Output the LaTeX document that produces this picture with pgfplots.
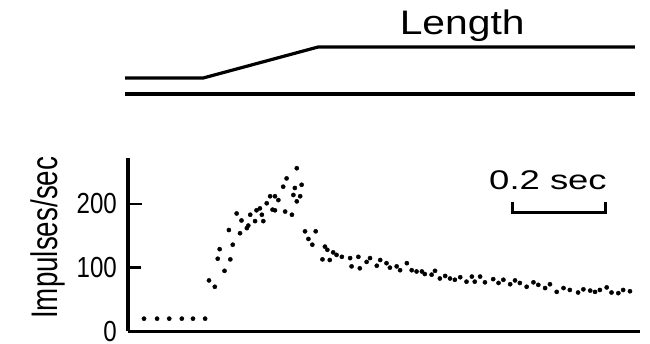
\documentclass[border=0pt]{standalone}
\usepackage{pgfplots}
\pgfplotsset{compat=1.18}
\usepackage{pgfplotstable}
\usepackage{fontspec}
\setmainfont{Liberation Sans}

% Discharge rate (impulses/sec) against time (s)
\pgfplotstableread{
t v
0.033 20
0.060 20
0.085 20
0.111 20
0.134 20
0.159 20
0.167 80
0.179 70
0.185 114
0.189 129
0.199 95
0.208 159
0.211 113
0.216 136
0.224 185
0.231 154
0.234 174
0.245 162
0.248 166
0.252 183
0.262 173
0.265 190
0.272 193
0.276 183
0.279 173
0.286 201
0.293 212
0.298 191
0.303 212
0.303 190
0.310 206
0.320 227
0.324 188
0.327 240
0.338 183
0.341 214
0.344 225
0.348 204
0.348 256
0.355 212
0.358 230
0.365 157
0.372 145
0.380 136
0.387 157
0.401 113
0.406 133
0.411 128
0.416 112
0.423 124
0.430 120
0.441 117
0.458 115
0.461 102
0.475 117
0.478 99
0.492 109
0.499 115
0.513 103
0.520 112
0.533 107
0.540 100
0.554 102
0.561 96
0.575 107
0.585 96
0.595 94
0.606 94
0.612 90
0.626 89
0.633 95
0.643 83
0.654 87
0.664 83
0.674 81
0.685 85
0.698 78
0.709 86
0.715 78
0.726 86
0.736 77
0.753 82
0.764 76
0.774 81
0.788 74
0.798 80
0.808 76
0.822 70
0.836 77
0.846 73
0.860 68
0.870 74
0.884 62
0.898 68
0.911 65
0.928 61
0.939 66
0.953 64
0.963 62
0.973 65
0.987 69
0.997 61
1.011 60
1.021 65
1.035 63
}\rates

\begin{document}
\begin{tikzpicture}
\path[use as bounding box] (0pt,0pt) rectangle (650pt,-343pt);

% Muscle length trace
\begin{axis}[
  at={(128pt,-94pt)}, anchor=south west,
  scale only axis, width=512pt, height=47pt,
  xmin=0, xmax=1.0557, ymin=0, ymax=47,
  hide axis, clip=false]
\addplot[black, line width=3.2pt] coordinates {(-0.006,0) (1.045,0)};
\addplot[black, line width=3.2pt, line join=round] coordinates {(-0.006,16) (0.155,16) (0.392,47) (1.045,47)};
\node[font=\fontsize{34}{36}\selectfont] at (axis cs:0.689,68) {\scalebox{1.2}[1]{Length}};
\end{axis}

% Firing rate
\begin{axis}[
  at={(128pt,-331.4pt)}, anchor=south west,
  scale only axis, width=512pt, height=173.4pt,
  xmin=0, xmax=1.0557, ymin=0, ymax=272,
  axis x line=bottom, axis y line=left,
  axis line style={line width=3.4pt, -},
  xtick=\empty, ytick={0,100,200},
  major tick length=0pt,
  yticklabel style={font=\fontsize{29}{30}\selectfont, inner sep=0pt, xshift=-11pt},
  yticklabel={\scalebox{0.83}[1]{\pgfmathprintnumber{\tick}}},
  /pgf/number format/assume math mode=true,
  ylabel={\scalebox{0.75}[1]{Impulses/sec}},
  ylabel style={font=\fontsize{37}{40}\selectfont, at={(axis description cs:-0.156,0.54)}, anchor=center},
  clip=false]
\addplot[only marks, mark=*, mark size=2.1pt, black] table[x=t, y=v] {\rates};
% time scale bar
\draw[black, line width=2.8pt] (axis cs:0.792,203) -- (axis cs:0.792,186) -- (axis cs:0.984,186) -- (axis cs:0.984,203);
\node[font=\fontsize{27}{30}\selectfont] at (axis cs:0.866,237) {\scalebox{1.35}[1]{0.2 sec}};
\end{axis}
% inward tick marks at 100 and 200 impulses/sec
\draw[black, line width=2.8pt] (128pt,-267.7pt) -- (141pt,-267.7pt);
\draw[black, line width=2.8pt] (128pt,-204pt) -- (142pt,-204pt);
\end{tikzpicture}
\end{document}
